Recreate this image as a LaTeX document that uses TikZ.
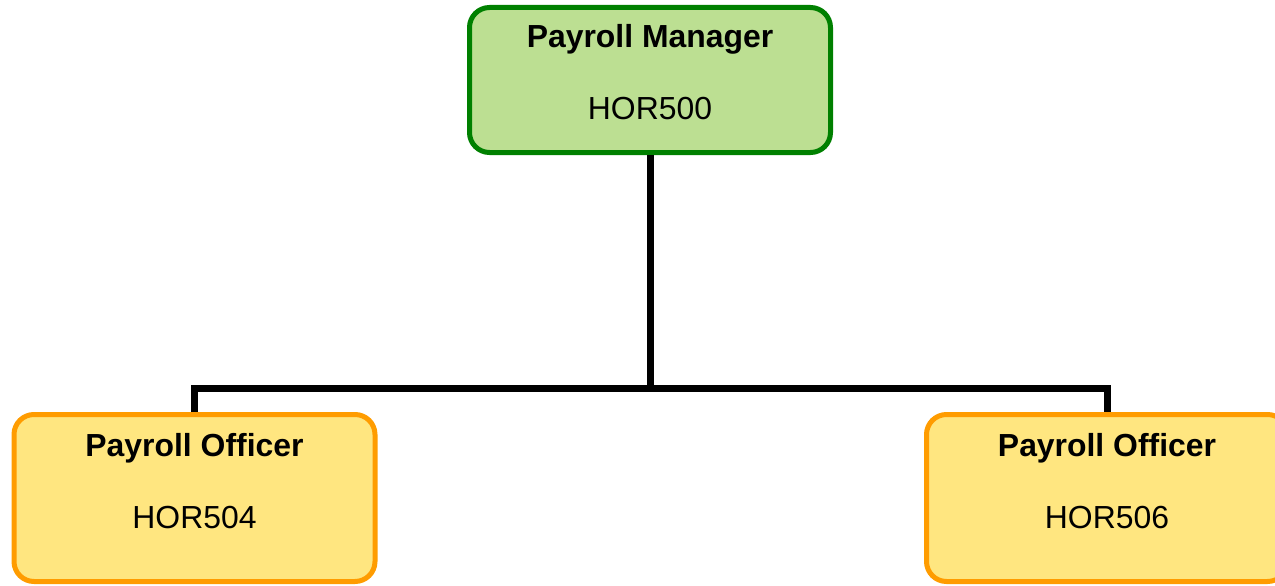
\documentclass[tikz,border=0pt]{standalone}
\usepackage{fontspec}
\setmainfont{Liberation Sans}
\definecolor{mgrfill}{HTML}{BCDF92}
\definecolor{mgrdraw}{HTML}{008000}
\definecolor{offfill}{HTML}{FFE680}
\definecolor{offdraw}{HTML}{FF9C00}
\tikzset{
  box/.style={draw, rounded corners=20pt, line width=5pt, minimum width=361pt, inner sep=0pt},
  mgrbox/.style={box, fill=mgrfill, draw=mgrdraw, minimum height=145pt},
  offbox/.style={box, fill=offfill, draw=offdraw, minimum height=167pt},
  title/.style={font=\fontsize{31.9}{36}\selectfont\bfseries, inner sep=0pt, anchor=base},
  code/.style={font=\fontsize{31.9}{36}\selectfont, inner sep=0pt, anchor=base},
  conn/.style={line width=7pt}
}
\begin{document}
\begin{tikzpicture}[x=1pt,y=-1pt]
\useasboundingbox (0,0) rectangle (1275,586);
\clip (0,0) rectangle (1275,586);
\node[mgrbox] (mgr) at (650,80) {};
\node[offbox] (o1) at (194.5,498) {};
\node[offbox] (o2) at (1107,498) {};
\node[title] (mgrt) at (650,48) {Payroll Manager};
\node[code] (mgrc) at (650,120) {HOR500};
\node[title] (o1t) at (194.5,456) {Payroll Officer};
\node[code] (o1c) at (194.5,528) {HOR504};
\node[title] (o2t) at (1107,456) {Payroll Officer};
\node[code] (o2c) at (1107,528) {HOR506};
\coordinate (j) at (650,388);
\draw[conn] (mgr.south) -- (j);
\draw[conn] (o1.north) |- (j) -| (o2.north);
\end{tikzpicture}
\end{document}
